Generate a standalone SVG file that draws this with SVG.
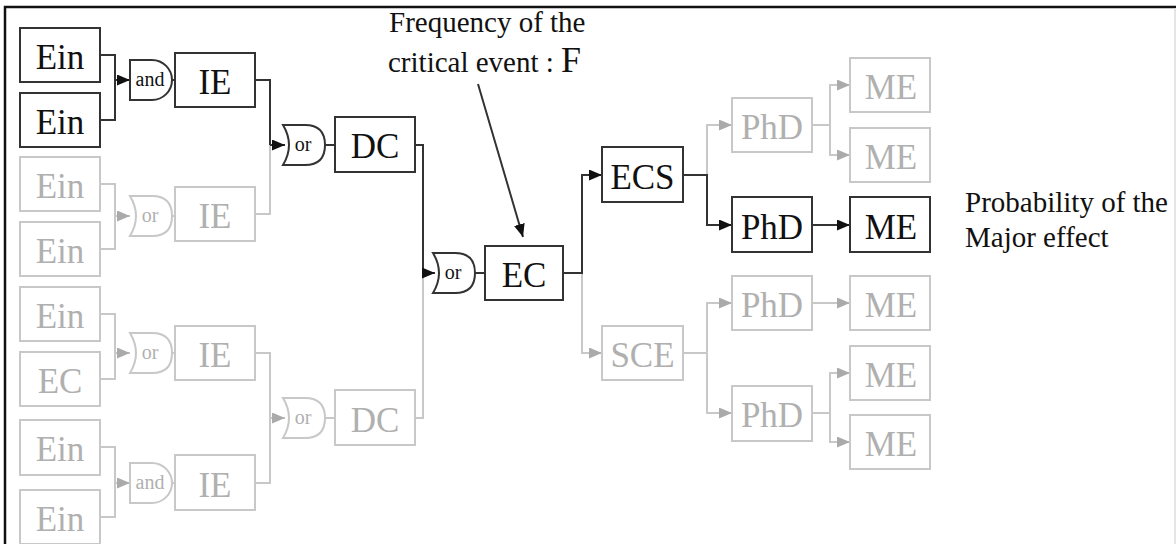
<svg xmlns="http://www.w3.org/2000/svg" xmlns:xlink="http://www.w3.org/1999/xlink" width="1176" height="544" viewBox="0 0 1176 544">
<style>
.bk rect{fill:#fff;stroke:#333;stroke-width:2}
.gy rect{fill:#fff;stroke:#c8c8c8;stroke-width:2}
.bk text{fill:#111}
.gy text{fill:#b0b0b0}
.lbl{font-size:35px;text-anchor:middle}
.gt{font-size:20px;text-anchor:middle}
.cb{fill:none;stroke:#333;stroke-width:2}
.cg{fill:none;stroke:#c8c8c8;stroke-width:2}
.ab{fill:none;stroke:#333;stroke-width:2;marker-end:url(#mb)}
.ag{fill:none;stroke:#c8c8c8;stroke-width:2;marker-end:url(#mg)}
.note{font-size:29px;fill:#111}
</style>
<defs>
<marker id="mb" markerUnits="userSpaceOnUse" markerWidth="13" markerHeight="11" refX="13" refY="5.5" orient="auto"><path d="M0,0 L13,5.5 L0,11 Z" fill="#111"/></marker>
<marker id="mg" markerUnits="userSpaceOnUse" markerWidth="13" markerHeight="11" refX="13" refY="5.5" orient="auto"><path d="M0,0 L13,5.5 L0,11 Z" fill="#aaa"/></marker>
<path id="andg" d="M0,0 H22 A20,20 0 0 1 22,40 H0 Z" fill="#fff"/>
<path id="org" d="M-2,0 H20 Q40,0 40,20 Q40,40 20,40 H-2 Q10,20 -2,0 Z" fill="#fff"/>
</defs>
<rect width="1176" height="544" fill="#fff"/>
<path d="M5,546 V7 H1176" fill="none" stroke="#111" stroke-width="2.5"/>
<line x1="1175" y1="8" x2="1175" y2="544" stroke="#ddd" stroke-width="1.5"/>

<g id="connectors">
<path class="cg" d="M100,184 H115 V249 H100"/>
<path class="ag" d="M115,216 H130"/>
<path class="cg" d="M172,216 H175"/>
<path class="cg" d="M255,214 H270 V145"/>
<path class="cg" d="M100,314 H115 V379 H100"/>
<path class="ag" d="M115,353 H130"/>
<path class="cg" d="M172,353 H175"/>
<path class="cg" d="M100,447 H115 V517 H100"/>
<path class="ag" d="M115,483 H130"/>
<path class="cg" d="M172,483 H175"/>
<path class="cg" d="M255,353 H270 V483 H255"/>
<path class="ag" d="M270,418 H285"/>
<path class="cg" d="M325,418 H335"/>
<path class="cg" d="M415,418 H423 V273"/>
<path class="ag" d="M582,273 V353 H602"/>
<path class="ag" d="M707,175 V125 H732"/>
<path class="cg" d="M812,125 H830"/>
<path class="ag" d="M830,125 V85 H850"/>
<path class="ag" d="M830,125 V155 H850"/>
<path class="cg" d="M683,353 H707"/>
<path class="ag" d="M707,353 V303 H732"/>
<path class="ag" d="M707,353 V413 H732"/>
<path class="ag" d="M812,303 H850"/>
<path class="cg" d="M812,413 H830"/>
<path class="ag" d="M830,413 V373 H850"/>
<path class="ag" d="M830,413 V442 H850"/>

<path class="cb" d="M100,55 H115 V120 H100"/>
<path class="ab" d="M115,80 H130"/>
<path class="cb" d="M172,80 H175"/>
<path class="cb" d="M255,80 H270 V145"/>
<path class="ab" d="M270,145 H285"/>
<path class="cb" d="M325,145 H335"/>
<path class="cb" d="M415,145 H423 V273"/>
<path class="ab" d="M423,273 H435"/>
<path class="cb" d="M475,273 H485"/>
<path class="ab" d="M563,273 H582 V175 H602"/>
<path class="ab" d="M683,175 H707 V225 H732"/>
<path class="ab" d="M812,225 H850"/>
<path class="ab" d="M478,84 L523,237"/>
</g>

<g font-family="'Liberation Serif', 'DejaVu Serif', 'Times New Roman', serif">
<g id="ein1" class="bk"><rect x="20" y="28" width="80" height="54"/><text class="lbl" x="60" y="69">Ein</text></g>
<g id="ein2" class="bk"><rect x="20" y="93" width="80" height="54"/><text class="lbl" x="60" y="134">Ein</text></g>
<g id="and1" class="bk"><use xlink:href="#andg" x="130" y="60" stroke="#333" stroke-width="2"/><text class="gt" x="150" y="86">and</text></g>
<g id="ie1" class="bk"><rect x="175" y="53" width="80" height="54"/><text class="lbl" x="215" y="94">IE</text></g>
<g id="or1" class="bk"><use xlink:href="#org" x="285" y="125" stroke="#333" stroke-width="2"/><text class="gt" x="303" y="151">or</text></g>
<g id="dc1" class="bk"><rect x="335" y="117" width="80" height="55"/><text class="lbl" x="375" y="158">DC</text></g>
<g id="or3" class="bk"><use xlink:href="#org" x="435" y="253" stroke="#333" stroke-width="2"/><text class="gt" x="453" y="279">or</text></g>
<g id="ec" class="bk"><rect x="485" y="246" width="78" height="54"/><text class="lbl" x="524" y="287">EC</text></g>
<g id="ecs" class="bk"><rect x="602" y="147" width="81" height="55"/><text class="lbl" x="642.5" y="189">ECS</text></g>
<g id="phd1" class="bk"><rect x="732" y="197" width="80" height="55"/><text class="lbl" x="772" y="239">PhD</text></g>
<g id="me1" class="bk"><rect x="850" y="197" width="80" height="55"/><text class="lbl" x="891" y="239">ME</text></g>

<g id="ein3" class="gy"><rect x="20" y="157" width="80" height="54"/><text class="lbl" x="60" y="198">Ein</text></g>
<g id="ein4" class="gy"><rect x="20" y="222" width="80" height="54"/><text class="lbl" x="60" y="263">Ein</text></g>
<g id="or2" class="gy"><use xlink:href="#org" x="132" y="196" stroke="#c8c8c8" stroke-width="2"/><text class="gt" x="150" y="222">or</text></g>
<g id="ie2" class="gy"><rect x="175" y="187" width="80" height="54"/><text class="lbl" x="215" y="228">IE</text></g>
<g id="ein5" class="gy"><rect x="20" y="287" width="80" height="54"/><text class="lbl" x="60" y="328">Ein</text></g>
<g id="ec2" class="gy"><rect x="20" y="352" width="80" height="54"/><text class="lbl" x="60" y="393">EC</text></g>
<g id="or4" class="gy"><use xlink:href="#org" x="132" y="333" stroke="#c8c8c8" stroke-width="2"/><text class="gt" x="150" y="359">or</text></g>
<g id="ie3" class="gy"><rect x="175" y="326" width="80" height="54"/><text class="lbl" x="215" y="367">IE</text></g>
<g id="ein7" class="gy"><rect x="20" y="420" width="80" height="55"/><text class="lbl" x="60" y="461">Ein</text></g>
<g id="ein8" class="gy"><rect x="20" y="490" width="80" height="54"/><text class="lbl" x="60" y="531">Ein</text></g>
<g id="and2" class="gy"><use xlink:href="#andg" x="130" y="463" stroke="#c8c8c8" stroke-width="2"/><text class="gt" x="150" y="489">and</text></g>
<g id="ie4" class="gy"><rect x="175" y="455" width="80" height="55"/><text class="lbl" x="215" y="497">IE</text></g>
<g id="or5" class="gy"><use xlink:href="#org" x="285" y="398" stroke="#c8c8c8" stroke-width="2"/><text class="gt" x="303" y="424">or</text></g>
<g id="dc2" class="gy"><rect x="335" y="390" width="80" height="55"/><text class="lbl" x="375" y="432">DC</text></g>
<g id="sce" class="gy"><rect x="602" y="326" width="81" height="54"/><text class="lbl" x="642.5" y="367">SCE</text></g>
<g id="phd2" class="gy"><rect x="732" y="98" width="80" height="54"/><text class="lbl" x="772" y="139">PhD</text></g>
<g id="me2" class="gy"><rect x="850" y="58" width="80" height="54"/><text class="lbl" x="891" y="99">ME</text></g>
<g id="me3" class="gy"><rect x="850" y="128" width="80" height="54"/><text class="lbl" x="891" y="169">ME</text></g>
<g id="phd3" class="gy"><rect x="732" y="276" width="80" height="54"/><text class="lbl" x="772" y="317">PhD</text></g>
<g id="me4" class="gy"><rect x="850" y="276" width="80" height="54"/><text class="lbl" x="891" y="317">ME</text></g>
<g id="phd4" class="gy"><rect x="732" y="386" width="80" height="55"/><text class="lbl" x="772" y="427">PhD</text></g>
<g id="me5" class="gy"><rect x="850" y="346" width="80" height="54"/><text class="lbl" x="891" y="387">ME</text></g>
<g id="me6" class="gy"><rect x="850" y="415" width="80" height="54"/><text class="lbl" x="891" y="456">ME</text></g>

<g id="freq-label">
<text class="note" x="389" y="32">Frequency of the</text>
<text class="note" x="388" y="72">critical event : <tspan font-size="36">F</tspan></text>
</g>
<g id="prob-label">
<text class="note" x="965" y="212">Probability of the</text>
<text class="note" x="965" y="247">Major effect</text>
</g>
</g>
</svg>
